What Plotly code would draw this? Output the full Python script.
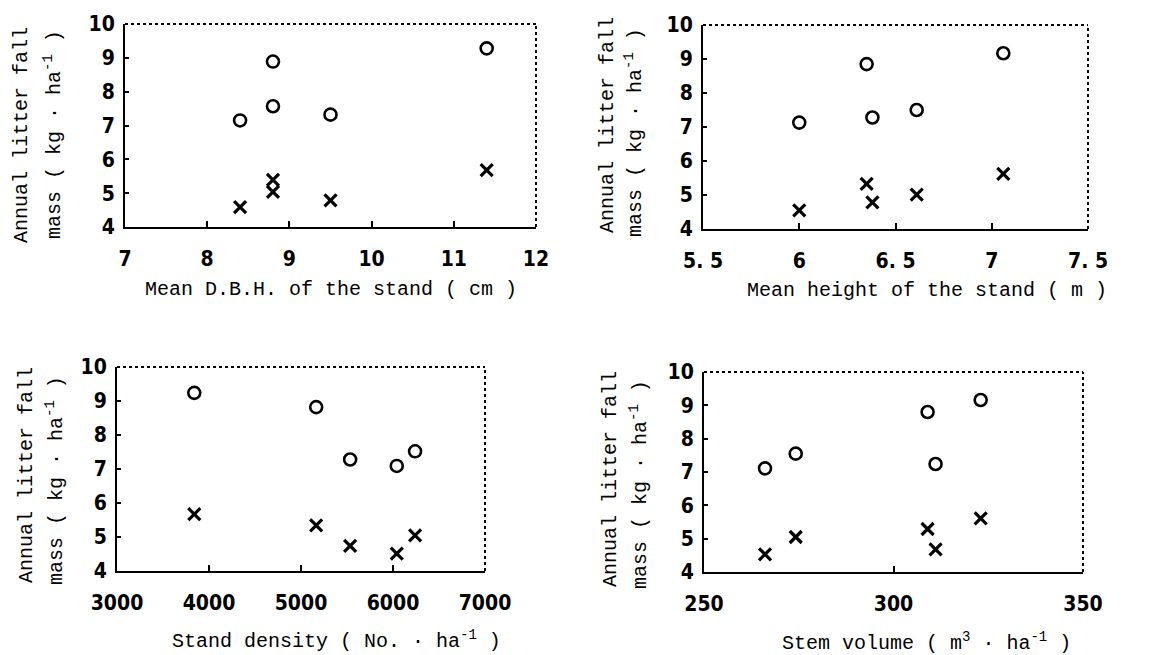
import plotly.graph_objects as go

# ---- data ----
dbh_x = [8.4, 8.8, 9.5, 8.8, 11.4]
dbh_circ = [7.15, 8.89, 7.32, 7.57, 9.28]
dbh_cross = [4.59, 5.39, 4.79, 5.04, 5.68]

height_x = [6.0, 6.35, 6.38, 6.61, 7.06]
height_circ = [7.13, 8.85, 7.28, 7.50, 9.17]
height_cross = [4.55, 5.33, 4.78, 5.01, 5.62]

density_x = [6041, 5165, 5534, 6240, 3840]
density_circ = [7.09, 8.82, 7.28, 7.52, 9.24]
density_cross = [4.51, 5.34, 4.74, 5.05, 5.67]

volume_x = [266.1, 309.0, 311.1, 274.2, 323.0]
volume_circ = [7.11, 8.80, 7.24, 7.55, 9.16]
volume_cross = [4.53, 5.29, 4.68, 5.05, 5.61]

y_ticks = [4, 5, 6, 7, 8, 9, 10]
x1_ticks = [7, 8, 9, 10, 11, 12]
x2_ticks = [5.5, 6, 6.5, 7, 7.5]
x2_ticktext = ["5. 5", "6", "6. 5", "7", "7. 5"]
x3_ticks = [3000, 4000, 5000, 6000, 7000]
x4_ticks = [250, 300, 350]

y_title_1 = "Annual litter fall"
y_title_2 = "mass ( kg · ha<sup>-1</sup> )"
x_titles = [
    "Mean D.B.H. of the stand ( cm )",
    "Mean height of the stand ( m )",
    "Stand density ( No. · ha<sup>-1</sup> )",
    "Stem volume ( m<sup>3</sup> · ha<sup>-1</sup> )",
]

# the page body has an 8 px margin: draw on a 1152x647 canvas and
# express reference pixel positions relative to that offset
OFF = 8
W, H = 1160 - OFF, 655 - OFF
TEXT_FONT = dict(family="Liberation Mono, DejaVu Sans Mono, monospace", size=20, color="black")
TICK_FONT = dict(family="Liberation Sans Narrow, DejaVu Sans Condensed, Arial Narrow, sans-serif",
                 size=21, color="black", weight="bold")

# plot-area boxes in reference pixels: (left, right, top, bottom)
boxes = [(125, 536, 24, 227), (703, 1088, 25, 229), (117, 485, 367, 571), (704, 1083, 372, 572)]

panels = [
    (dbh_x, dbh_circ, dbh_cross, [7, 12], x1_ticks, [str(t) for t in x1_ticks]),
    (height_x, height_circ, height_cross, [5.5, 7.5], x2_ticks, x2_ticktext),
    (density_x, density_circ, density_cross, [3000, 7000], x3_ticks, [str(t) for t in x3_ticks]),
    (volume_x, volume_circ, volume_cross, [250, 350], x4_ticks, [str(t) for t in x4_ticks]),
]

# annotation reference-pixel positions: y-title line1 (x,y), line2 (x,y), x-title (x,y)
ann_pos = [
    ((22, 135), (53, 135), (331, 289)),
    ((607, 125), (634, 133), (927, 290)),
    ((26, 475), (55, 481), (336, 640)),
    ((610, 479), (639, 485), (926, 642)),
]


def fx(p):
    return (p - OFF) / W


def fy(p):
    return 1 - (p - OFF) / H


fig = go.Figure()
layout = dict(width=W, height=H, margin=dict(l=0, r=0, t=0, b=0, pad=0, autoexpand=False),
              paper_bgcolor="white", plot_bgcolor="white", showlegend=False)
annotations = []
shapes = []

for i, (px, pc, pxx, xr, xt, xtt) in enumerate(panels):
    n = "" if i == 0 else str(i + 1)
    xa, ya = "x" + n, "y" + n
    left, right, top, bottom = boxes[i]
    fig.add_trace(go.Scatter(x=px, y=pc, mode="markers", xaxis=xa, yaxis=ya,
                             marker=dict(symbol="circle-open", size=12, color="black",
                                         line=dict(width=2.6, color="black"))))
    fig.add_trace(go.Scatter(x=px, y=pxx, mode="markers", xaxis=xa, yaxis=ya,
                             marker=dict(symbol="x-thin-open", size=12, color="black",
                                         line=dict(width=3.2, color="black"))))
    layout["xaxis" + n] = dict(domain=[fx(left), fx(right)], range=xr, anchor=ya,
                               tickvals=xt, ticktext=xtt, ticks="inside", ticklen=6,
                               tickwidth=1.5, tickcolor="black", showline=True,
                               linewidth=2, linecolor="black", showgrid=False,
                               zeroline=False, tickfont=TICK_FONT, ticklabelstandoff=12,
                               automargin=False, fixedrange=True)
    layout["yaxis" + n] = dict(domain=[fy(bottom), fy(top)], range=[4, 10], anchor=xa,
                               tickvals=y_ticks, ticks="inside", ticklen=4,
                               tickwidth=1.5, tickcolor="black", showline=True,
                               linewidth=2, linecolor="black", showgrid=False,
                               zeroline=False, tickfont=TICK_FONT, ticklabelstandoff=4,
                               automargin=False, fixedrange=True)
    # dotted top and right frame
    shapes.append(dict(type="line", xref=xa + " domain", yref=ya + " domain",
                       x0=0, x1=1, y0=1, y1=1, line=dict(color="black", width=2, dash="dot")))
    shapes.append(dict(type="line", xref=xa + " domain", yref=ya + " domain",
                       x0=1, x1=1, y0=0, y1=1, line=dict(color="black", width=2, dash="dot")))
    (l1x, l1y), (l2x, l2y), (tx, ty) = ann_pos[i]
    annotations.append(dict(text=y_title_1, xref="paper", yref="paper", x=fx(l1x), y=fy(l1y),
                            xanchor="center", yanchor="middle", textangle=-90,
                            showarrow=False, font=TEXT_FONT))
    annotations.append(dict(text=y_title_2, xref="paper", yref="paper", x=fx(l2x), y=fy(l2y),
                            xanchor="center", yanchor="middle", textangle=-90,
                            showarrow=False, font=TEXT_FONT))
    annotations.append(dict(text=x_titles[i], xref="paper", yref="paper", x=fx(tx), y=fy(ty),
                            xanchor="center", yanchor="middle",
                            showarrow=False, font=TEXT_FONT))

layout["annotations"] = annotations
layout["shapes"] = shapes
fig.update_layout(**layout)
fig.write_html("out.html", config={"displayModeBar": False})
